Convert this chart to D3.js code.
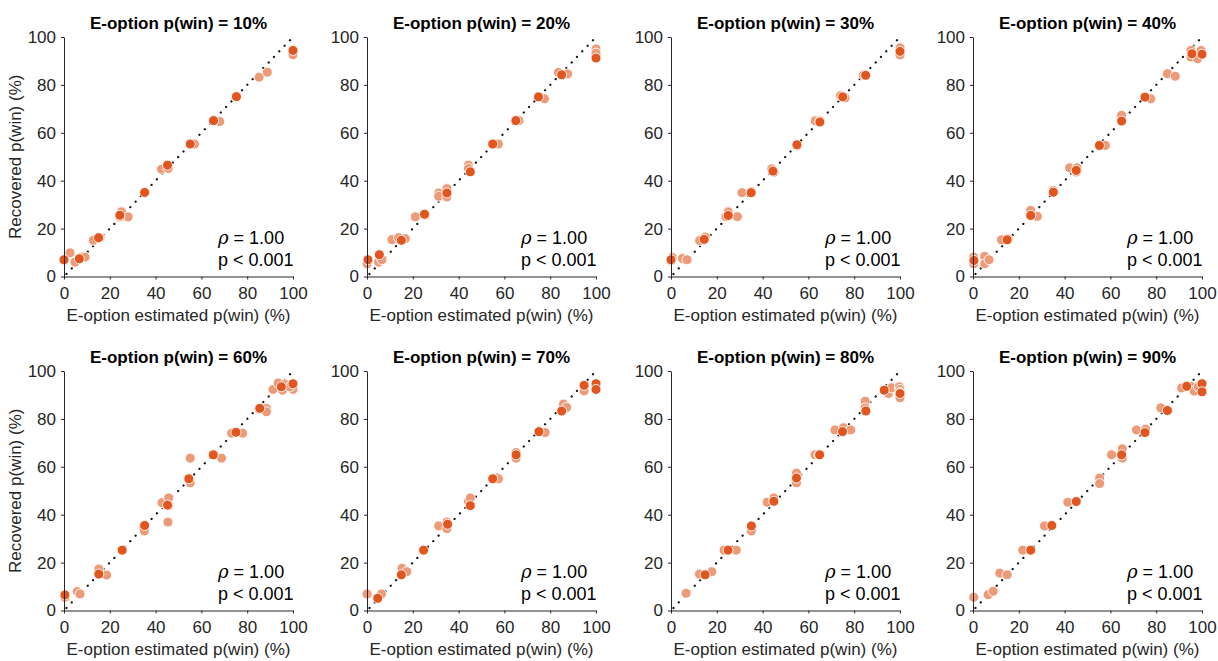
<!DOCTYPE html>
<html>
<head>
<meta charset="utf-8">
<script src="https://cdn.jsdelivr.net/npm/d3@7"></script>
<style>
  body { margin: 0; background: #fff; }
  svg { display: block; font-family: "Liberation Sans", Arial, sans-serif; }
</style>
</head>
<body>
<svg id="chart" width="1218" height="661"></svg>
<script>
// E-option win probabilities shown in each panel
const conditions = [10, 20, 30, 40, 60, 70, 80, 90];
const tickValues = [0, 20, 40, 60, 80, 100];

// Per-panel recovered estimates: [estimated p(win), recovered p(win)] in %
// "single" = individual recoveries, "mean" = group-level recoveries
const single10 = [[0,6.7],[2.6,9.9],[4.8,6],[7.7,8.1],[9.2,8.1],[12.8,15.1],[15.7,16.2],[25.1,27],[28,24.9],[24.4,24.9],[42.6,44.8],[45.5,45.1],[55.7,55.3],[57,55.3],[68,64.7],[85.2,83.2],[88.8,85.3],[100,94.7],[100,92.6]];
const mean10   = [[0,7],[6.7,7.4],[15.1,16.2],[24.4,25.6],[35.2,35.1],[45.2,46.5],[55.1,55.3],[65.3,65.1],[75.3,75.1],[100,94.4]];

const single20 = [[0,5.3],[5.1,6],[6.5,7],[10.9,15.4],[13.8,16.2],[16.7,15.8],[21.1,24.9],[25.4,25.6],[31.3,34.9],[31.3,33.5],[34.9,36.7],[34.9,33.2],[44.3,46.5],[44.3,45.1],[57.4,55.3],[66.4,65.1],[77.5,74.2],[83.6,85.2],[87.6,84.6],[100,95],[100,93.3]];
const mean20   = [[0.4,7],[5.4,9.1],[15,15.1],[25.1,26],[34.9,34.9],[45.1,43.7],[54.9,55.3],[65,65.1],[74.9,75],[85,84.2],[100,91.2]];

const single30 = [[0,6.5],[0.5,8],[5,7.5],[7,7],[12.5,15],[15,16.5],[25,27],[24,25],[29,25],[31,35],[35,35.5],[44,45],[45,43.5],[55,54.5],[63,65],[65,65],[74,75.5],[76,74.5],[84,84],[85,84],[100,95.5],[100,92.5]];
const mean30   = [[0,7],[14.5,15.5],[25,25.5],[35,35],[44.5,44],[55,55],[65,64.5],[75,75],[85,84],[100,94]];

const single40 = [[0.3,8.1],[0.3,5.3],[5.1,8.4],[5.1,5.3],[7,7],[12.4,15.3],[15.4,15.7],[25.2,27.6],[28.1,25.1],[35.1,35.9],[42.2,45.4],[45.4,45.4],[45.1,43.6],[57.8,54.7],[64.9,67.3],[77.6,74.2],[84.9,84.7],[88.3,83.6],[95.2,94.4],[95.2,91.6],[99.6,94.4],[98.1,90.9]];
const mean40   = [[0.4,6.7],[14.9,15.3],[25.2,25.5],[35.1,35.2],[45.1,44.3],[55.2,54.7],[64.9,64.9],[75.1,74.9],[95.6,93],[100,92.8]];

const single60 = [[0.4,5.5],[5.8,7.9],[7,6.9],[15.2,17.3],[18.6,14.8],[34.8,34.6],[35.1,33.2],[42.8,45],[45.7,47],[45.7,43.8],[45.4,36.9],[55.1,63.6],[55.1,53.3],[68.8,63.6],[73.2,74],[78,74],[85.2,84.1],[88.4,84.4],[88.4,83],[91.3,92.3],[93.5,95],[95.4,92],[96.4,94.5],[100,92.3],[98.6,93.4]];
const mean60   = [[0.4,6.5],[15.2,15.2],[25.4,25.2],[35.2,35.5],[45.2,44],[54.5,55],[65.2,65],[75.1,74.4],[85.5,84.4],[94.9,93.4],[100,94.7]];

const single70 = [[0,6.9],[6.3,6.9],[15.3,17.6],[17.4,16.2],[31.3,35.3],[34.9,36.9],[34.9,34.2],[44.3,45.6],[45.1,47],[57.4,55],[65.1,66],[65.1,63.6],[77.8,74.3],[85.8,86.2],[87.2,84.8],[94.8,91.7]];
const mean70   = [[4.7,5.1],[15,14.9],[24.7,25.2],[35.2,36],[45.1,43.8],[54.9,55],[65.1,65],[75.1,74.7],[85,83.3],[94.8,94],[100,94.7],[100,92.3]];

const single80 = [[6.6,7.2],[12.4,15.2],[17.8,16.2],[23.2,25.2],[28.5,25.2],[35.1,33.2],[42,45.2],[44.9,47],[54.8,57.4],[54.8,53.3],[62.9,65],[64.6,65],[71.6,75.4],[75.3,76.3],[78.5,75.4],[84.8,87.4],[84.8,84.6],[94.9,90.6],[96.3,93],[99.7,93.4],[100,88.8],[100,92.3],[100,91]];
const mean80   = [[14.9,14.9],[24.9,25.2],[35.1,35.3],[44.9,45.6],[54.8,55.3],[64.9,65],[74.9,74.7],[85.1,83.3],[93.1,92],[100,90.6]];

const single90 = [[0.3,5.5],[6.6,6.6],[8.8,8],[11.7,15.6],[14.9,14.9],[21.7,25.2],[31.2,35.3],[41.4,45.2],[55.3,55.3],[55.3,53],[60.5,65],[65.2,67.5],[65.2,63.6],[71.4,75.4],[75.4,75.7],[82,84.6],[91.1,92.9],[95.2,93.6],[96.6,91.6],[98.4,93.4]];
const mean90   = [[25.2,25.2],[34.4,35.5],[45.1,45.5],[64.9,65],[75.1,74.3],[84.9,83.5],[93.3,93.6],[100,94.7],[100,91.3]];

const singleSets = [single10, single20, single30, single40, single60, single70, single80, single90];
const meanSets   = [mean10, mean20, mean30, mean40, mean60, mean70, mean80, mean90];
const rhoLabels  = ["1.00","1.00","1.00","1.00","1.00","1.00","1.00","1.00"];

// Layout of the 2 x 4 grid of panels
const colLeft = [64, 367, 671, 973];
const plotW = 229;
const rowTop = [37, 371];
const plotH = 239.5;

const axisColor = "#262626";
const lightFill = "#ec9a78";
const darkFill = "#e1561f";

const svg = d3.select("#chart");

conditions.forEach((cond, i) => {
  const row = Math.floor(i / 4), col = i % 4;
  const x0 = colLeft[col], y0 = rowTop[row];
  const g = svg.append("g").attr("transform", `translate(${x0},${y0})`);

  const x = d3.scaleLinear().domain([0, 100]).range([0, plotW]);
  const y = d3.scaleLinear().domain([0, 100]).range([plotH, 0]);

  // identity line
  g.append("line")
    .attr("x1", x(0)).attr("y1", y(0))
    .attr("x2", x(100)).attr("y2", y(100))
    .attr("stroke", "#111")
    .attr("stroke-width", 2.2)
    .attr("stroke-linecap", "round")
    .attr("stroke-dasharray", "0.1 7.6")
    .attr("stroke-dashoffset", -3.5);

  // individual estimates
  g.append("g").selectAll("circle")
    .data(singleSets[i]).join("circle")
    .attr("cx", d => x(d[0])).attr("cy", d => y(d[1]))
    .attr("r", 5)
    .attr("fill", lightFill)
    .attr("stroke", "#fff").attr("stroke-width", 0.9);

  // group-level estimates
  g.append("g").selectAll("circle")
    .data(meanSets[i]).join("circle")
    .attr("cx", d => x(d[0])).attr("cy", d => y(d[1]))
    .attr("r", 5)
    .attr("fill", darkFill)
    .attr("stroke", "#fff").attr("stroke-width", 0.9);

  // axes
  const xAxis = g.append("g").attr("transform", `translate(0,${plotH})`)
    .call(d3.axisBottom(x).tickValues(tickValues).tickSize(3).tickPadding(7).tickSizeOuter(0));
  const yAxis = g.append("g")
    .call(d3.axisLeft(y).tickValues(tickValues).tickSize(3).tickPadding(5).tickSizeOuter(0));
  [xAxis, yAxis].forEach(a => {
    a.select(".domain").attr("stroke", axisColor).attr("stroke-width", 1);
    a.selectAll(".tick line").attr("stroke", axisColor);
    a.selectAll(".tick text").attr("fill", axisColor)
      .style("font-size", "17px").style("font-family", "'Liberation Sans', Arial, sans-serif");
  });

  // panel title
  g.append("text")
    .attr("x", plotW / 2).attr("y", -8)
    .attr("text-anchor", "middle")
    .style("font-size", "17px").style("font-weight", "bold")
    .attr("fill", "#000")
    .text(`E-option p(win) = ${cond}%`);

  // x-axis label
  g.append("text")
    .attr("x", plotW / 2).attr("y", plotH + 44)
    .attr("text-anchor", "middle")
    .style("font-size", "17px")
    .attr("fill", axisColor)
    .text("E-option estimated p(win) (%)");

  // y-axis label on the leftmost panels
  if (col === 0) {
    g.append("text")
      .attr("transform", `translate(-43,${plotH / 2}) rotate(-90)`)
      .attr("text-anchor", "middle")
      .style("font-size", "17px")
      .attr("fill", axisColor)
      .text("Recovered p(win) (%)");
  }

  // correlation annotation
  const ann = g.append("text")
    .attr("x", 154).attr("y", plotH - 33)
    .style("font-size", "18px").attr("fill", "#000");
  ann.append("tspan").style("font-family", "'DejaVu Serif', 'Liberation Serif', serif")
    .style("font-style", "italic").text("ρ");
  ann.append("tspan").text(` = ${rhoLabels[i]}`);
  g.append("text")
    .attr("x", 154).attr("y", plotH - 11)
    .style("font-size", "18px").attr("fill", "#000")
    .text("p < 0.001");
});
</script>
</body>
</html>
